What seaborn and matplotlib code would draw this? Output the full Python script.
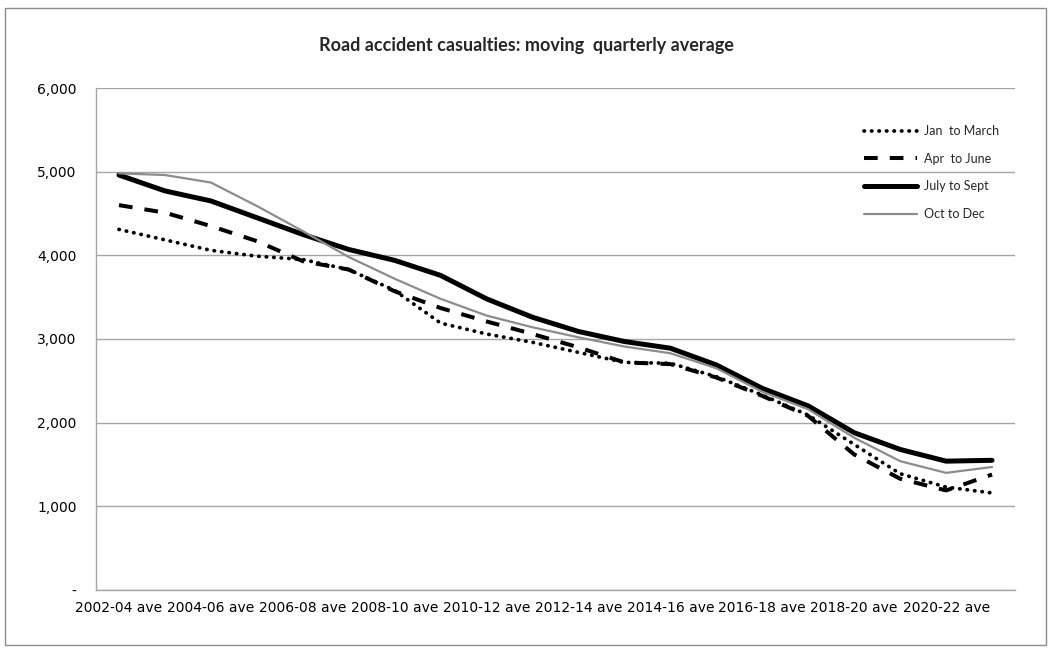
import numpy as np
import pandas as pd
import matplotlib
matplotlib.use("Agg")
import matplotlib.pyplot as plt
from matplotlib.patches import Rectangle
from matplotlib.ticker import FuncFormatter
import seaborn as sns

# Three-year moving averages of road accident casualties, by quarter
periods = [
    "2002-04 ave", "2003-05 ave", "2004-06 ave", "2005-07 ave", "2006-08 ave",
    "2007-09 ave", "2008-10 ave", "2009-11 ave", "2010-12 ave", "2011-13 ave",
    "2012-14 ave", "2013-15 ave", "2014-16 ave", "2015-17 ave", "2016-18 ave",
    "2017-19 ave", "2018-20 ave", "2019-21 ave", "2020-22 ave", "2021-23 ave",
]
jan_mar = [4310, 4185, 4060, 3990, 3950, 3830, 3580, 3190, 3060, 2960,
           2840, 2720, 2710, 2550, 2330, 2090, 1740, 1390, 1230, 1160]
apr_jun = [4600, 4510, 4350, 4170, 3930, 3830, 3570, 3370, 3210, 3060,
           2900, 2720, 2700, 2540, 2320, 2080, 1620, 1330, 1190, 1380]
jul_sep = [4960, 4770, 4650, 4450, 4250, 4070, 3940, 3760, 3480, 3260,
           3090, 2970, 2890, 2690, 2410, 2200, 1880, 1680, 1540, 1550]
oct_dec = [4980, 4960, 4870, 4590, 4290, 3980, 3720, 3480, 3280, 3140,
           3020, 2910, 2830, 2650, 2370, 2160, 1820, 1540, 1400, 1470]

series_labels = ["Jan  to March", "Apr  to June", "July to Sept", "Oct to Dec"]
title = "Road accident casualties: moving  quarterly average"
y_ticks = [0, 1000, 2000, 3000, 4000, 5000, 6000]

sns.set_theme(style="white")
plt.rcParams["font.family"] = ["DejaVu Sans"]

W, H = 1052, 652
fig = plt.figure(figsize=(W / 100, H / 100), dpi=100)
fig.patch.set_facecolor("white")

left, right, top, bottom = 96, 1015, 88, 590
ax = fig.add_axes([left / W, 1 - bottom / H, (right - left) / W, (bottom - top) / H])

grid_grey = "#a6a6a6"
styles = [
    dict(color="black", linewidth=2.7, linestyle=(0, (0.1, 1.9)),
         dash_capstyle="round"),
    dict(color="black", linewidth=2.9, linestyle=(0, (3.4, 3.0)),
         dash_capstyle="butt"),
    dict(color="black", linewidth=3.6, linestyle="-",
         solid_capstyle="round"),
    dict(color="#8c8c8c", linewidth=1.6, linestyle="-"),
]

x_pos = np.arange(len(periods))
for values, label, st in zip([jan_mar, apr_jun, jul_sep, oct_dec], series_labels, styles):
    df = pd.DataFrame({"pos": x_pos, "casualties": values})
    sns.lineplot(data=df, x="pos", y="casualties", ax=ax, label=label, **st)

ax.set_xlim(-0.5, len(periods) - 0.5)
ax.set_ylim(0, 6000)
ax.set_xlabel("")
ax.set_ylabel("")

ax.set_yticks(y_ticks)
ax.yaxis.set_major_formatter(FuncFormatter(lambda v, _: "-" if v == 0 else f"{v:,.0f}"))
ax.yaxis.grid(True, color=grid_grey, linewidth=1)
ax.xaxis.grid(False)
ax.set_axisbelow(True)

ax.set_xticks(x_pos[::2])
ax.set_xticklabels(periods[::2])
ax.set_xticks(np.arange(-0.5, len(periods), 1), minor=True)
ax.tick_params(axis="x", which="major", length=0, pad=8, labelsize=10, colors="black")
ax.tick_params(axis="x", which="minor", length=5, width=1, color=grid_grey, direction="out")
ax.tick_params(axis="y", length=5, width=1, color=grid_grey, direction="out",
               pad=9, labelsize=10, labelcolor="black")

for side in ["top", "right"]:
    ax.spines[side].set_visible(False)
for side in ["left", "bottom"]:
    ax.spines[side].set_color(grid_grey)
    ax.spines[side].set_linewidth(1)

leg = ax.legend(loc="upper left", bbox_to_anchor=(864 / W, 1 - 125 / H),
                bbox_transform=fig.transFigure, frameon=False,
                prop={"family": "Lato", "size": 9}, handlelength=4.2,
                handletextpad=0.6, labelspacing=1.25, borderpad=0, borderaxespad=0)

fig.text(0.5, 1 - 46 / H, title, ha="center", va="center",
         fontsize=13, fontweight="bold", family="Lato")

fig.add_artist(Rectangle((5 / W, 1 - 645 / H), 1041 / W, 637 / H,
                         transform=fig.transFigure, fill=False,
                         edgecolor="#8c8c8c", linewidth=1))

fig.savefig("out.png", dpi=100, facecolor="white")
